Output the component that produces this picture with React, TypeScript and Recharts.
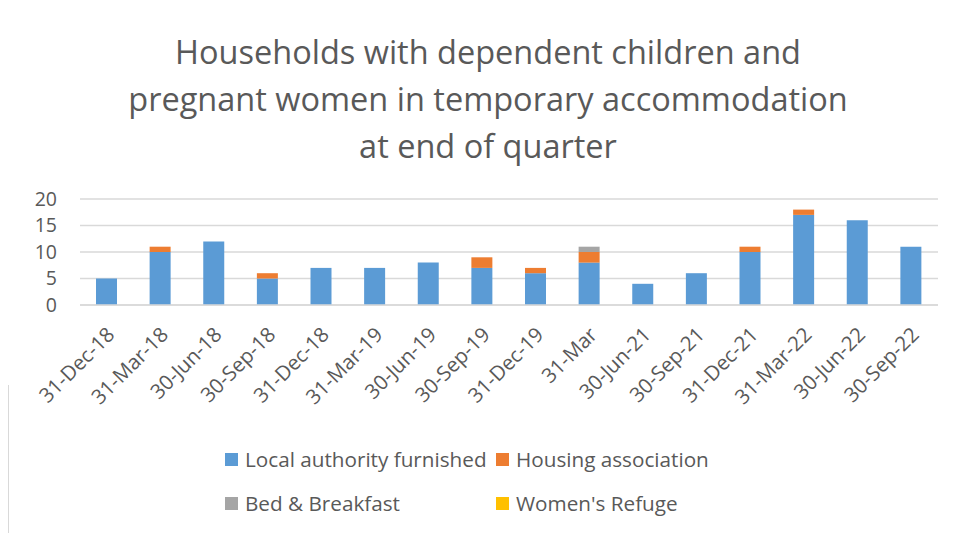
import React from "react";
import { BarChart, Bar, XAxis, YAxis, CartesianGrid, Legend } from "recharts";

const quarters = [
  "31-Dec-18", "31-Mar-18", "30-Jun-18", "30-Sep-18", "31-Dec-18", "31-Mar-19",
  "30-Jun-19", "30-Sep-19", "31-Dec-19", "31-Mar", "30-Jun-21", "30-Sep-21",
  "31-Dec-21", "31-Mar-22", "30-Jun-22", "30-Sep-22",
];
const localAuthority = [5, 10, 12, 5, 7, 7, 8, 7, 6, 8, 4, 6, 10, 17, 16, 11];
const housingAssociation = [0, 1, 0, 1, 0, 0, 0, 2, 1, 2, 0, 0, 1, 1, 0, 0];
const bedBreakfast = [0, 0, 0, 0, 0, 0, 0, 0, 0, 1, 0, 0, 0, 0, 0, 0];
const womensRefuge = [0, 0, 0, 0, 0, 0, 0, 0, 0, 0, 0, 0, 0, 0, 0, 0];
const yTicks = [0, 5, 10, 15, 20];
const titleLines = [
  "Households with dependent children and",
  "pregnant women in temporary accommodation",
  "at end of quarter",
];

const seriesNames = ["Local authority furnished", "Housing association", "Bed & Breakfast", "Women's Refuge"];
const seriesKeys = ["la", "ha", "bb", "wr"];
const colors = ["#5B9BD5", "#ED7D31", "#A5A5A5", "#FFC000"];

const data = quarters.map((q, i) => ({
  q,
  la: localAuthority[i],
  ha: housingAssociation[i],
  bb: bedBreakfast[i],
  wr: womensRefuge[i],
}));

const FONT = "'Open Sans', sans-serif";
const TEXT = "#595959";

const XTick = (props: any) => {
  const { x, y, payload } = props;
  const ax = x + 9;
  const ay = y + 23;
  return (
    <text
      x={ax}
      y={ay}
      transform={`rotate(-45, ${ax}, ${ay})`}
      textAnchor="end"
      fill={TEXT}
      fontSize={20.5}
      fontFamily={FONT}
    >
      {payload.value}
    </text>
  );
};

const LegendContent = () => {
  const pos = [
    { left: 225, top: 19 },
    { left: 496, top: 19 },
    { left: 225, top: 63 },
    { left: 496, top: 63 },
  ];
  return (
    <div style={{ position: "relative", width: 956, height: 100 }}>
      {seriesNames.map((n, i) => (
        <div
          key={n}
          style={{
            position: "absolute",
            left: pos[i].left,
            top: pos[i].top,
            display: "flex",
            alignItems: "center",
            height: 14,
            fontFamily: FONT,
            fontSize: 20.7,
            color: TEXT,
            whiteSpace: "nowrap",
          }}
        >
          <span style={{ width: 13, height: 13, background: colors[i], marginRight: 7, display: "inline-block", flexShrink: 0 }} />
          {n}
        </div>
      ))}
    </div>
  );
};

export default function App() {
  return (
    <div style={{ position: "absolute", left: 0, top: 0, width: 956, height: 533, background: "#fff", overflow: "hidden" }}>
      <div style={{ position: "absolute", left: 8, top: 385, width: 1, height: 148, background: "#d9d9d9" }} />
      <div
        style={{
          position: "absolute",
          left: 10,
          top: 28,
          width: 956,
          textAlign: "center",
          fontFamily: FONT,
          fontSize: 32.5,
          lineHeight: "47px",
          color: TEXT,
          zIndex: 2,
        }}
      >
        {titleLines.map((l) => (
          <div key={l}>{l}</div>
        ))}
      </div>
      <BarChart
        width={956}
        height={533}
        data={data}
        margin={{ top: 199, right: 18, bottom: 0, left: 0 }}
        barSize={21}
      >
        <CartesianGrid vertical={false} stroke="#d9d9d9" strokeWidth={1.5} />
        <XAxis
          dataKey="q"
          interval={0}
          height={128}
          tick={<XTick />}
          tickLine={false}
          axisLine={{ stroke: "#d9d9d9", strokeWidth: 1.5 }}
        />
        <YAxis
          width={80}
          domain={[0, 20]}
          ticks={yTicks}
          interval={0}
          tickLine={false}
          axisLine={false}
          tickSize={0}
          tickMargin={23}
          tick={{ fill: TEXT, fontSize: 19.5, fontFamily: FONT }}
        />
        <Legend verticalAlign="bottom" content={<LegendContent />} wrapperStyle={{ left: 0, width: 956 }} />
        {seriesKeys.map((k, i) => (
          <Bar key={k} dataKey={k} name={seriesNames[i]} stackId="s" fill={colors[i]} isAnimationActive={false} />
        ))}
      </BarChart>
    </div>
  );
}
